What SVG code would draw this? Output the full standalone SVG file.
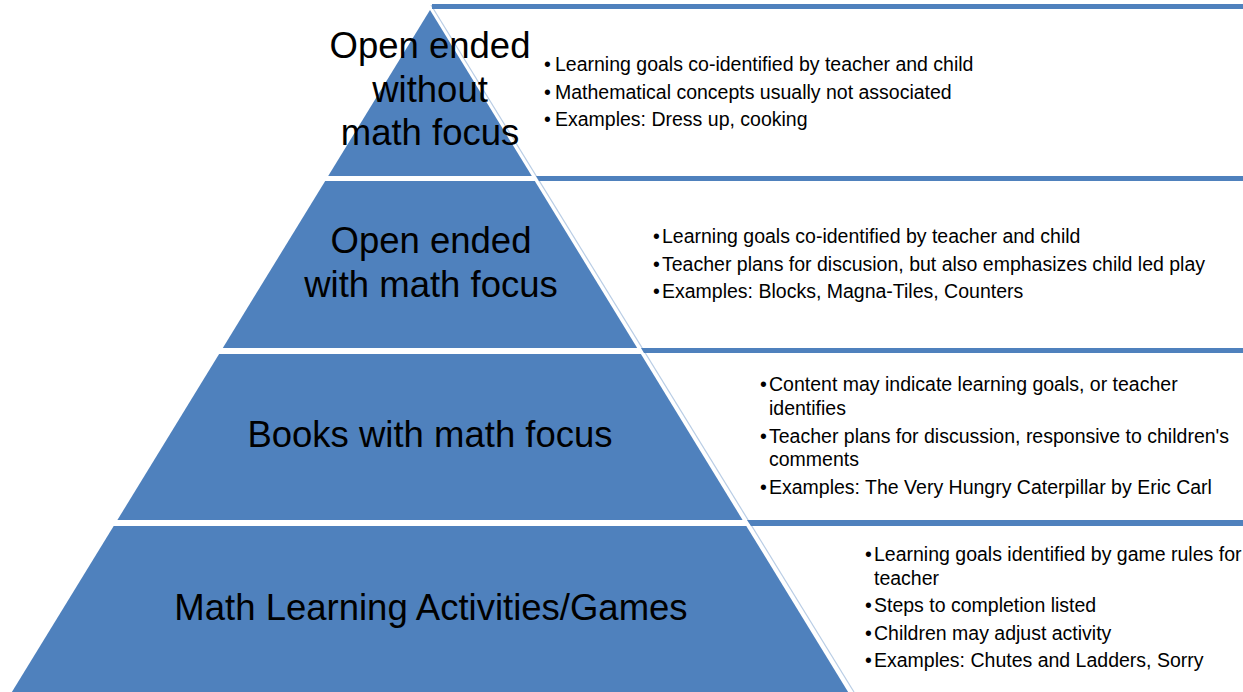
<svg xmlns="http://www.w3.org/2000/svg" width="1243" height="692" viewBox="0 0 1243 692">
<style>
.tier{fill:#4f81bd;}
.bar{fill:#4f81bd;}
.edge{stroke:#b9cde5;stroke-width:1.2;fill:none;}
.lbl{font-family:"Liberation Sans",Arial,sans-serif;font-size:36.5px;fill:#000;text-anchor:middle;}
.txt{font-family:"Liberation Sans",Arial,sans-serif;font-size:19.5px;fill:#000;}
</style>
<rect width="1243" height="692" fill="#fff"/>
<g id="connectors">
<line class="edge" x1="431" y1="5" x2="854" y2="692"/>
<rect class="bar" x="432" y="4" width="811" height="5"/>
<polygon class="bar" points="536,176 1243,176 1243,181 539,181"/>
<polygon class="bar" points="641,348 1243,348 1243,353 644,353"/>
<polygon class="bar" points="747,520 1243,520 1243,526 751,526"/>
</g>
<g id="tier1">
<polygon class="tier" points="430,10 531.8,176 328.2,176"/>
<text class="lbl" x="430" y="58">Open ended</text>
<text class="lbl" x="430" y="102">without</text>
<text class="lbl" x="430" y="145">math focus</text>
</g>
<g id="tier2">
<polygon class="tier" points="325.2,181 534.8,181 637.2,348 222.8,348"/>
<text class="lbl" x="431" y="253">Open ended</text>
<text class="lbl" x="431" y="297">with math focus</text>
</g>
<g id="tier3">
<polygon class="tier" points="219.1,354 640.9,354 742.6,520 117.4,520"/>
<text class="lbl" x="430" y="447">Books with math focus</text>
</g>
<g id="tier4">
<polygon class="tier" points="113.7,526 746.3,526 848.1,692 11.9,692"/>
<text class="lbl" x="431" y="620">Math Learning Activities/Games</text>
</g>
<g id="text1">
<text class="txt" y="71"><tspan x="544">•</tspan><tspan x="555">Learning goals co-identified by teacher and child</tspan></text>
<text class="txt" y="99"><tspan x="544">•</tspan><tspan x="555">Mathematical concepts usually not associated</tspan></text>
<text class="txt" y="126"><tspan x="544">•</tspan><tspan x="555">Examples: Dress up, cooking</tspan></text>
</g>
<g id="text2">
<text class="txt" y="243"><tspan x="653">•</tspan><tspan x="662">Learning goals co-identified by teacher and child</tspan></text>
<text class="txt" y="271"><tspan x="653">•</tspan><tspan x="662">Teacher plans for discusion, but also emphasizes child led play</tspan></text>
<text class="txt" y="298"><tspan x="653">•</tspan><tspan x="662">Examples: Blocks, Magna-Tiles, Counters</tspan></text>
</g>
<g id="text3">
<text class="txt" y="391"><tspan x="760">•</tspan><tspan x="769">Content may indicate learning goals, or teacher</tspan></text>
<text class="txt" x="769" y="415">identifies</text>
<text class="txt" y="443"><tspan x="760">•</tspan><tspan x="769">Teacher plans for discussion, responsive to children's</tspan></text>
<text class="txt" x="769" y="466">comments</text>
<text class="txt" y="494"><tspan x="760">•</tspan><tspan x="769">Examples: The Very Hungry Caterpillar by Eric Carl</tspan></text>
</g>
<g id="text4">
<text class="txt" y="561"><tspan x="865">•</tspan><tspan x="874">Learning goals identified by game rules for</tspan></text>
<text class="txt" x="874" y="585">teacher</text>
<text class="txt" y="612"><tspan x="865">•</tspan><tspan x="874">Steps to completion listed</tspan></text>
<text class="txt" y="640"><tspan x="865">•</tspan><tspan x="874">Children may adjust activity</tspan></text>
<text class="txt" y="667"><tspan x="865">•</tspan><tspan x="874">Examples: Chutes and Ladders, Sorry</tspan></text>
</g>
</svg>
